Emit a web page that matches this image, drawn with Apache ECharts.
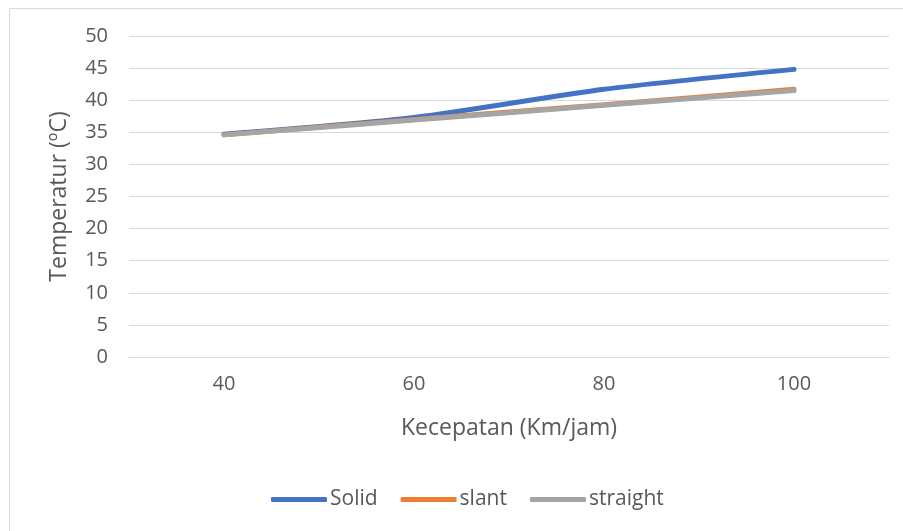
<!DOCTYPE html>
<html>
<head>
<meta charset="utf-8">
<script src="https://cdn.jsdelivr.net/npm/echarts@6/dist/echarts.min.js"></script>
<style>
  html, body { margin: 0; padding: 0; background: #fff; }
  #chart { width: 903px; height: 531px; }
</style>
</head>
<body>
<div id="chart"></div>
<script>
const categories = ["40", "60", "80", "100"];
const solid = [34.7, 37.3, 41.7, 44.8];
const slant = [34.6, 37.0, 39.3, 41.7];
const straight = [34.6, 36.9, 39.2, 41.5];

const textColor = "#595959";
const gridColor = "#d9d9d9";
const font = "'Open Sans', 'Liberation Sans', sans-serif";

const chart = echarts.init(document.getElementById("chart"), null, {
  renderer: "canvas",
});

function lineSeries(name, data, color) {
  return {
    name: name,
    type: "line",
    data: data,
    smooth: 0.25,
    showSymbol: false,
    animation: false,
    color: color,
    lineStyle: { width: 5, cap: "round", color: color },
  };
}

chart.setOption({
  backgroundColor: "#fff",
  textStyle: { fontFamily: font },
  graphic: [
    {
      type: "rect",
      shape: { x: 9.5, y: 8.5, width: 1000, height: 1000 },
      style: { fill: "none", stroke: gridColor, lineWidth: 1 },
      silent: true,
    },
  ],
  grid: {
    left: 129,
    right: 14,
    top: 36,
    bottom: 174,
  },
  legend: {
    bottom: 16,
    left: 266,
    icon: "roundRect",
    itemWidth: 56,
    itemHeight: 5,
    itemGap: 23,
    textStyle: { color: textColor, fontSize: 21, fontFamily: font, padding: [0, 0, 0, -2] },
    data: ["Solid", "slant", "straight"],
  },
  xAxis: {
    type: "category",
    data: categories,
    boundaryGap: true,
    name: "Kecepatan (Km/jam)",
    nameLocation: "middle",
    nameGap: 60,
    nameTextStyle: { color: textColor, fontSize: 23, fontFamily: font },
    axisLine: { show: true, lineStyle: { color: gridColor, width: 1 } },
    axisTick: { show: false },
    axisLabel: { color: textColor, fontSize: 20, margin: 17, fontFamily: font },
  },
  yAxis: {
    type: "value",
    min: 0,
    max: 50,
    interval: 5,
    name: "Temperatur (\u00baC)",
    nameLocation: "middle",
    nameGap: 58,
    nameTextStyle: { color: textColor, fontSize: 23, fontFamily: font },
    axisLine: { show: false },
    axisTick: { show: false },
    axisLabel: { color: textColor, fontSize: 20, margin: 21, fontFamily: font },
    splitLine: { lineStyle: { color: gridColor, width: 1 } },
  },
  series: [
    lineSeries("Solid", solid, "#4472c4"),
    lineSeries("slant", slant, "#ed7d31"),
    lineSeries("straight", straight, "#a5a5a5"),
  ],
});
</script>
</body>
</html>
